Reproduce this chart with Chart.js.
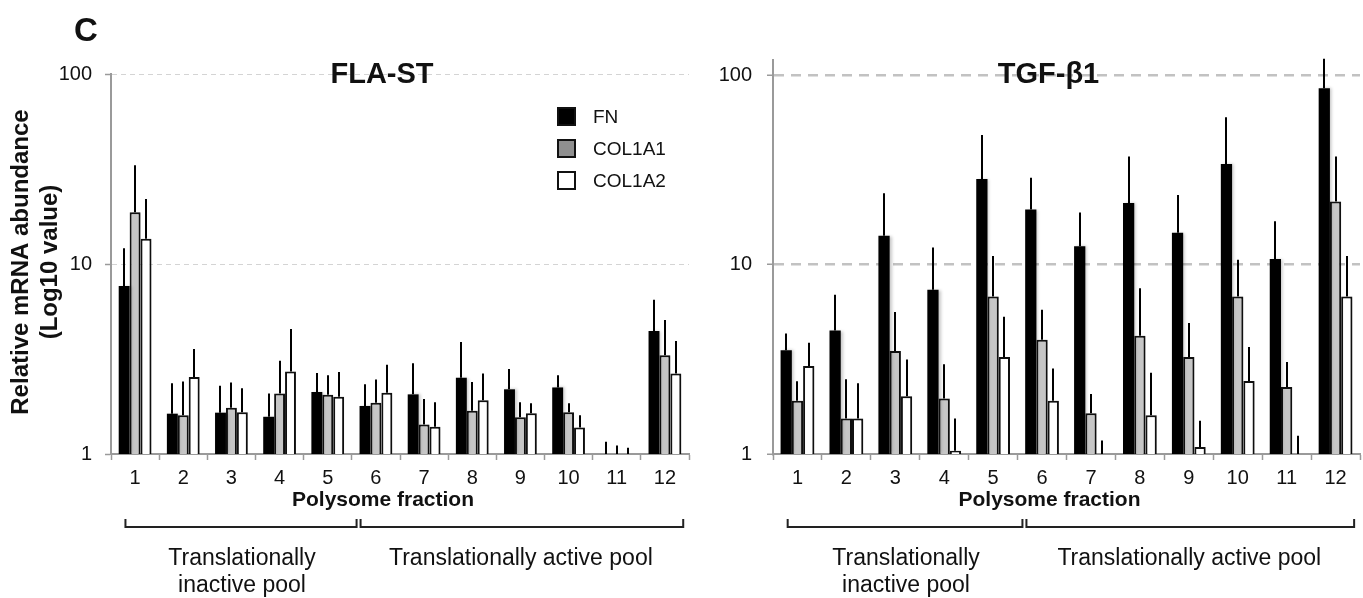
<!DOCTYPE html>
<html>
<head>
<meta charset="utf-8">
<title>FLA-ST / TGF-β1 polysome fractions</title>
<script src="https://cdn.jsdelivr.net/npm/chart.js@4.4.1/dist/chart.umd.min.js"></script>
<style>
  html, body { margin: 0; padding: 0; background: #fff; }
  #wrap { position: relative; width: 1363px; height: 598px; overflow: hidden; }
  #wrap canvas { position: absolute; top: 0; }
  #leftChart { left: 0; }
  #rightChart { left: 700px; }
</style>
</head>
<body>
<div id="wrap">
  <canvas id="leftChart" width="700" height="598"></canvas>
  <canvas id="rightChart" width="663" height="598"></canvas>
</div>
<script>
// ===== DATA =====
const fractions = ['1', '2', '3', '4', '5', '6', '7', '8', '9', '10', '11', '12'];
const seriesNames = ['FN', 'COL1A1', 'COL1A2'];
const yTicks = [1, 10, 100];

// FLA-ST (bar value, then top of the error bar)
const flaFN        = [7.66, 1.63, 1.65, 1.57, 2.12, 1.79, 2.06, 2.52, 2.19, 2.24, 1, 4.44];
const flaFNErr     = [12.1, 2.36, 2.29, 2.08, 2.67, 2.33, 3.00, 3.88, 2.80, 2.60, 1.16, 6.49];
const flaCOL1A1    = [18.7, 1.60, 1.75, 2.08, 2.05, 1.86, 1.43, 1.69, 1.56, 1.66, 1, 3.31];
const flaCOL1A1Err = [33.1, 2.41, 2.38, 3.10, 2.60, 2.47, 1.95, 2.39, 1.87, 1.85, 1.11, 5.07];
const flaCOL1A2    = [13.6, 2.54, 1.66, 2.72, 2.00, 2.10, 1.39, 1.92, 1.64, 1.38, 1, 2.65];
const flaCOL1A2Err = [22.0, 3.57, 2.22, 4.55, 2.70, 2.95, 1.87, 2.65, 1.85, 1.60, 1.08, 3.93];

// TGF-β1
const tgfFN        = [3.53, 4.48, 14.2, 7.36, 28.3, 19.5, 12.5, 21.1, 14.7, 33.9, 10.7, 85.1];
const tgfFNErr     = [4.32, 6.93, 23.8, 12.3, 48.3, 28.7, 18.8, 37.2, 23.3, 59.9, 16.9, 122];
const tgfCOL1A1    = [1.91, 1.54, 3.50, 1.96, 6.78, 4.01, 1.64, 4.21, 3.25, 6.78, 2.26, 21.5];
const tgfCOL1A1Err = [2.42, 2.48, 5.61, 2.98, 11.1, 5.77, 2.07, 7.50, 4.91, 10.6, 3.06, 37.2];
const tgfCOL1A2    = [2.91, 1.54, 2.02, 1.04, 3.25, 1.91, 1, 1.60, 1.09, 2.43, 1, 6.78];
const tgfCOL1A2Err = [3.87, 2.36, 3.15, 1.54, 5.30, 2.83, 1.18, 2.68, 1.50, 3.67, 1.25, 11.1];

const FONT = "'Liberation Sans', Arial, sans-serif";
const barFill = ['#000000', '#c6c6c6', '#ffffff'];
const legendFill = ['#000000', '#8f8f8f', '#ffffff'];
const axisGray = '#9a9a9a';

// ===== SOFT BAR SHADOW =====
const barShadow = {
  id: 'barShadow',
  beforeDatasetsDraw(chart) {
    const ctx = chart.ctx;
    ctx.save();
    ctx.shadowColor = 'rgba(0,0,0,0.22)';
    ctx.shadowBlur = 3;
    ctx.shadowOffsetX = 2;
    ctx.shadowOffsetY = 0;
  },
  afterDatasetsDraw(chart) {
    chart.ctx.restore();
  }
};

// ===== ERROR BARS (upper only, no caps) =====
const errorBars = {
  id: 'errorBars',
  afterDatasetsDraw(chart) {
    const ctx = chart.ctx;
    const yScale = chart.scales.y;
    ctx.save();
    ctx.strokeStyle = '#000';
    ctx.lineWidth = 2;
    chart.data.datasets.forEach((ds, i) => {
      chart.getDatasetMeta(i).data.forEach((bar, j) => {
        const x = Math.round(bar.x);
        ctx.beginPath();
        ctx.moveTo(x, bar.y);
        ctx.lineTo(x, yScale.getPixelForValue(ds.errTop[j]));
        ctx.stroke();
      });
    });
    ctx.restore();
  }
};

// ===== TITLES, BRACKETS, LEGEND =====
const panelDecor = {
  id: 'panelDecor',
  afterDraw(chart, args, opts) {
    const ctx = chart.ctx;
    const area = chart.chartArea;
    const xs = chart.scales.x;
    const cx = (area.left + area.right) / 2;
    ctx.save();
    ctx.fillStyle = '#111';

    if (opts.letter) {
      ctx.font = `bold 33px ${FONT}`;
      ctx.textAlign = 'left';
      ctx.textBaseline = 'alphabetic';
      ctx.fillText(opts.letter, 74, 41);
    }

    // panel title
    ctx.font = `bold 29px ${FONT}`;
    ctx.textAlign = 'center';
    ctx.textBaseline = 'alphabetic';
    ctx.fillText(opts.title, cx - 18, 83);

    // x axis title
    ctx.font = `bold 21px ${FONT}`;
    ctx.fillText('Polysome fraction', cx - 17, 506);

    // brackets under the axis
    const w = xs.getPixelForValue(1) - xs.getPixelForValue(0);
    const start = xs.getPixelForValue(0) - 0.2 * w;
    const mid = xs.getPixelForValue(4) + 0.64 * w;
    const end = xs.getPixelForValue(11) + 0.38 * w;
    const by = 527, tick = 8;
    ctx.strokeStyle = '#222';
    ctx.lineWidth = 2;
    [[start, mid - 2], [mid + 2, end]].forEach(([a, b]) => {
      ctx.beginPath();
      ctx.moveTo(a, by - tick);
      ctx.lineTo(a, by);
      ctx.lineTo(b, by);
      ctx.lineTo(b, by - tick);
      ctx.stroke();
    });
    ctx.font = `23px ${FONT}`;
    ctx.fillText('Translationally', (start + mid) / 2, 565);
    ctx.fillText('inactive pool', (start + mid) / 2, 592);
    ctx.fillText('Translationally active pool', (mid + end) / 2, 565);

    if (opts.yTitle) {
      ctx.save();
      ctx.translate(0, 262);
      ctx.rotate(-Math.PI / 2);
      ctx.font = `bold 24px ${FONT}`;
      ctx.textBaseline = 'middle';
      ctx.fillText(opts.yTitle[0], 0, 21);
      ctx.fillText(opts.yTitle[1], 0, 50);
      ctx.restore();
    }

    if (opts.legend) {
      const lx = 557, size = 19;
      seriesNames.forEach((name, i) => {
        const ly = 107 + i * 32;
        ctx.fillStyle = legendFill[i];
        ctx.fillRect(lx, ly, size, size);
        ctx.strokeStyle = '#111';
        ctx.lineWidth = 2;
        ctx.strokeRect(lx + 1, ly + 1, size - 2, size - 2);
        ctx.fillStyle = '#111';
        ctx.font = `19px ${FONT}`;
        ctx.textAlign = 'left';
        ctx.textBaseline = 'middle';
        ctx.fillText(name, lx + 36, ly + size / 2 + 1);
      });
    }
    ctx.restore();
  }
};

function makeDatasets(values, errs, catPct) {
  return seriesNames.map((name, i) => ({
    label: name,
    data: values[i],
    errTop: errs[i],
    backgroundColor: barFill[i],
    borderColor: '#111',
    borderWidth: i === 0 ? 0 : 2,
    borderSkipped: 'bottom',
    categoryPercentage: catPct,
    barPercentage: 1.0
  }));
}

function makeChart(id, cfg) {
  return new Chart(document.getElementById(id), {
    type: 'bar',
    data: { labels: fractions, datasets: makeDatasets(cfg.values, cfg.errs, cfg.catPct) },
    plugins: [barShadow, errorBars, panelDecor],
    options: {
      responsive: false,
      animation: false,
      events: [],
      layout: { padding: cfg.padding },
      plugins: {
        legend: { display: false },
        tooltip: { enabled: false },
        panelDecor: cfg.decor
      },
      scales: {
        x: {
          grid: {
            drawOnChartArea: false, drawTicks: true, offset: true,
            tickLength: 6, tickColor: axisGray, tickWidth: 1.5
          },
          border: { color: axisGray, width: 2 },
          ticks: {
            color: '#111', font: { family: FONT, size: 20 },
            padding: 6, maxRotation: 0, autoSkip: false
          },
          afterFit: s => { s.height = 30; }
        },
        y: {
          type: 'logarithmic',
          min: 1,
          max: cfg.max,
          afterBuildTicks: s => { s.ticks = yTicks.map(v => ({ value: v })); },
          afterFit: s => { s.width = cfg.yWidth; },
          grid: {
            color: c => (c.tick && c.tick.value === 1) ? 'rgba(0,0,0,0)' : cfg.gridColor,
            lineWidth: cfg.gridWidth,
            tickLength: 6, tickColor: axisGray, tickWidth: 1.5
          },
          border: { color: axisGray, width: 2, dash: cfg.gridDash },
          ticks: {
            color: '#111', font: { family: FONT, size: 20 },
            padding: cfg.tickPad,
            callback: v => String(v)
          }
        }
      }
    }
  });
}

document.addEventListener('DOMContentLoaded', () => {

  // ===== FLA-ST =====
  makeChart('leftChart', {
    values: [flaFN, flaCOL1A1, flaCOL1A2],
    errs: [flaFNErr, flaCOL1A1Err, flaCOL1A2Err],
    catPct: 0.68,
    max: 100,
    yWidth: 111,
    tickPad: 13,
    padding: { top: 74, right: 11, bottom: 114, left: 0 },
    gridColor: '#d4d4d4', gridWidth: 1, gridDash: [5, 4],
    decor: {
      letter: 'C',
      title: 'FLA-ST',
      legend: true,
      yTitle: ['Relative mRNA abundance', '(Log10 value)']
    }
  });

  // ===== TGF-β1 =====
  makeChart('rightChart', {
    values: [tgfFN, tgfCOL1A1, tgfCOL1A2],
    errs: [tgfFNErr, tgfCOL1A1Err, tgfCOL1A2Err],
    catPct: 0.69,
    max: 120,
    yWidth: 73,
    tickPad: 15,
    padding: { top: 60, right: 3, bottom: 114, left: 0 },
    gridColor: '#c2c2c2', gridWidth: 2.5, gridDash: [10, 7],
    decor: { title: 'TGF-β1' }
  });

});
</script>
</body>
</html>
